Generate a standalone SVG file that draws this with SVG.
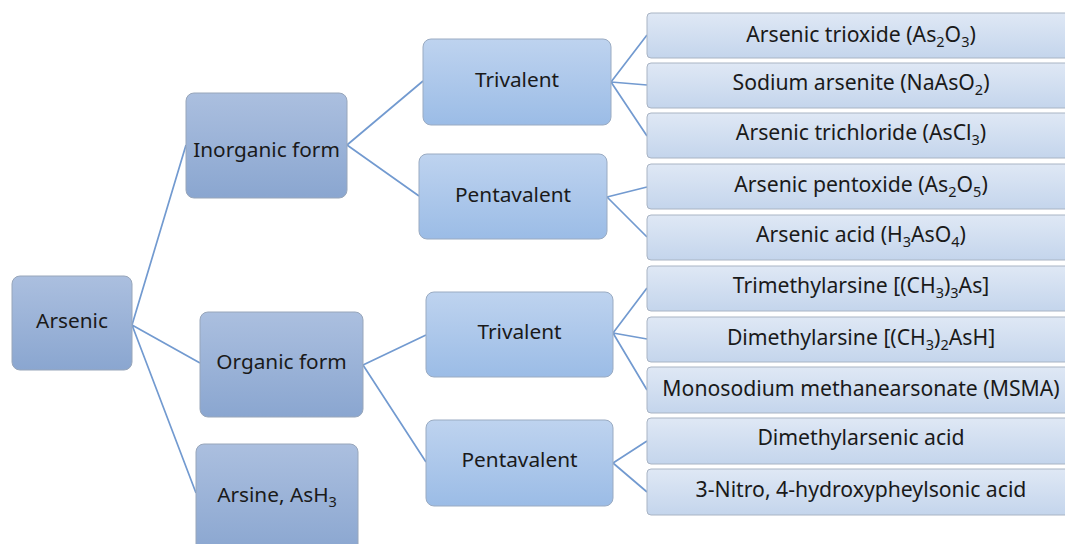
<svg xmlns="http://www.w3.org/2000/svg" width="1065" height="544" viewBox="0 0 1065 544">
<defs>
<linearGradient id="g1" x1="0" y1="0" x2="0" y2="1"><stop offset="0" stop-color="#abbfdf"/><stop offset="1" stop-color="#8aa6d0"/></linearGradient>
<linearGradient id="g2" x1="0" y1="0" x2="0" y2="1"><stop offset="0" stop-color="#bed3ef"/><stop offset="1" stop-color="#9bbce6"/></linearGradient>
<linearGradient id="g3" x1="0" y1="0" x2="0" y2="1"><stop offset="0" stop-color="#dfe8f5"/><stop offset="1" stop-color="#c4d5ec"/></linearGradient>
</defs>
<style>
text{font-family:"Noto Sans","DejaVu Sans",sans-serif;font-size:20.8px;fill:#1a1a1a;text-anchor:middle}
.r{font-size:21.2px}
.l1{fill:url(#g1);stroke:#98a6ba;stroke-width:1}
.l2{fill:url(#g2);stroke:#9aabc2;stroke-width:1}
.l3{fill:url(#g3);stroke:#a9b4c4;stroke-width:1}
#connectors path{fill:none;stroke:#729ad0;stroke-width:1.7}
.s{font-size:14.5px}
</style>
<rect width="1065" height="544" fill="#ffffff"/>
<g id="connectors">
<path d="M132 325 L186 145 M132 325 L200 363 M132 325 L196 493"/>
<path d="M347 145 L423 81 M347 145 L419 196"/>
<path d="M363 365 L426 335 M363 365 L426 462"/>
<path d="M611 82 L647 35 M611 82 L647 85 M611 82 L647 136"/>
<path d="M607 197 L647 187 M607 197 L647 237"/>
<path d="M613 333 L647 288 M613 333 L647 339 M613 333 L647 390"/>
<path d="M613 463 L647 441 M613 463 L647 492"/>
</g>
<g id="arsenic"><rect class="l1" x="12" y="276" width="120" height="94" rx="8"/><text x="72" y="328">Arsenic</text></g>
<g id="inorganic"><rect class="l1" x="186" y="93" width="161" height="105" rx="8"/><text x="266.5" y="157">Inorganic form</text></g>
<g id="organic"><rect class="l1" x="200" y="312" width="163" height="105" rx="8"/><text x="281.5" y="369">Organic form</text></g>
<g id="arsine"><rect class="l1" x="196" y="444" width="162" height="110" rx="8"/><text x="277" y="502">Arsine, AsH<tspan class="s" dy="5">3</tspan></text></g>
<g id="trivalent1"><rect class="l2" x="423" y="39" width="188" height="86" rx="8"/><text x="517" y="87">Trivalent</text></g>
<g id="pentavalent1"><rect class="l2" x="419" y="154" width="188" height="85" rx="8"/><text x="513" y="202">Pentavalent</text></g>
<g id="trivalent2"><rect class="l2" x="426" y="292" width="187" height="85" rx="8"/><text x="519.5" y="339">Trivalent</text></g>
<g id="pentavalent2"><rect class="l2" x="426" y="420" width="187" height="86" rx="8"/><text x="519.5" y="467">Pentavalent</text></g>
<g id="r0"><rect class="l3" x="647" y="13" width="428" height="45" rx="4"/><text class="r" x="861" y="42">Arsenic trioxide (As<tspan class="s" dy="5">2</tspan><tspan dy="-5">O</tspan><tspan class="s" dy="5">3</tspan><tspan dy="-5">)</tspan></text></g>
<g id="r1"><rect class="l3" x="647" y="63" width="428" height="45" rx="4"/><text class="r" x="861" y="90">Sodium arsenite (NaAsO<tspan class="s" dy="5">2</tspan><tspan dy="-5">)</tspan></text></g>
<g id="r2"><rect class="l3" x="647" y="113" width="428" height="45" rx="4"/><text class="r" x="861" y="140">Arsenic trichloride (AsCl<tspan class="s" dy="5">3</tspan><tspan dy="-5">)</tspan></text></g>
<g id="r3"><rect class="l3" x="647" y="164" width="428" height="45" rx="4"/><text class="r" x="861" y="192">Arsenic pentoxide (As<tspan class="s" dy="5">2</tspan><tspan dy="-5">O</tspan><tspan class="s" dy="5">5</tspan><tspan dy="-5">)</tspan></text></g>
<g id="r4"><rect class="l3" x="647" y="215" width="428" height="45" rx="4"/><text class="r" x="861" y="242">Arsenic acid (H<tspan class="s" dy="5">3</tspan><tspan dy="-5">AsO</tspan><tspan class="s" dy="5">4</tspan><tspan dy="-5">)</tspan></text></g>
<g id="r5"><rect class="l3" x="647" y="266" width="428" height="45" rx="4"/><text class="r" x="861" y="293">Trimethylarsine [(CH<tspan class="s" dy="5">3</tspan><tspan dy="-5">)</tspan><tspan class="s" dy="5">3</tspan><tspan dy="-5">As]</tspan></text></g>
<g id="r6"><rect class="l3" x="647" y="317" width="428" height="45" rx="4"/><text class="r" x="861" y="345">Dimethylarsine [(CH<tspan class="s" dy="5">3</tspan><tspan dy="-5">)</tspan><tspan class="s" dy="5">2</tspan><tspan dy="-5">AsH]</tspan></text></g>
<g id="r7"><rect class="l3" x="647" y="367" width="428" height="46" rx="4"/><text class="r" x="861" y="396">Monosodium methanearsonate (MSMA)</text></g>
<g id="r8"><rect class="l3" x="647" y="418" width="428" height="46" rx="4"/><text class="r" x="861" y="445">Dimethylarsenic acid</text></g>
<g id="r9"><rect class="l3" x="647" y="469" width="428" height="46" rx="4"/><text class="r" x="861" y="497">3-Nitro, 4-hydroxypheylsonic acid</text></g>
</svg>
